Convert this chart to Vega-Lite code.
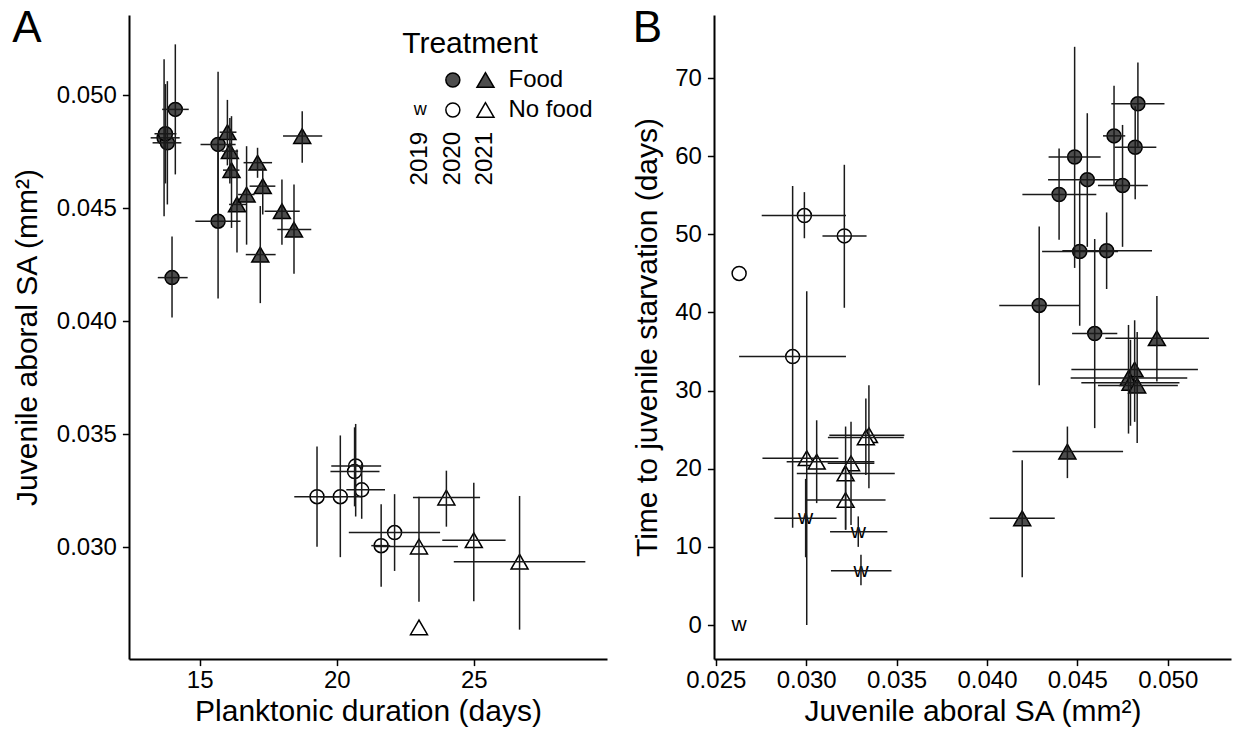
{
  "$schema": "https://vega.github.io/schema/vega-lite/v6.json",
  "padding": {"left": 12, "top": 7, "right": 5, "bottom": 0},
  "config": {
    "font": "Liberation Sans",
    "view": {"stroke": null},
    "axis": {"grid": false, "domainColor": "black", "domainWidth": 2, "tickColor": "black", "tickWidth": 1.5, "tickSize": 6.6, "labelFontSize": 24, "labelColor": "black", "labelFont": "Liberation Sans", "titleFont": "Liberation Sans", "titleFontSize": 30, "titleFontWeight": "normal", "titleColor": "black", "labelPadding": 6},
    "axisX": {"labelPadding": 3},
    "title": {"fontSize": 44, "fontWeight": "normal", "anchor": "start", "frame": "bounds", "offset": -36, "color": "black", "font": "Liberation Sans"},
    "concat": {"spacing": 25}
  },
  "resolve": {"scale": {"x": "independent", "y": "independent"}},
  "datasets": {
    "pa": [
      {"trt": "Food", "yr": "2020", "x": 13.70, "xlo": 13.21, "xhi": 14.27, "y": 0.04812, "ylo": 0.04465, "yhi": 0.0516},
      {"trt": "Food", "yr": "2020", "x": 13.82, "xlo": 13.28, "xhi": 14.33, "y": 0.0479, "ylo": 0.04517, "yhi": 0.05063},
      {"trt": "Food", "yr": "2020", "x": 13.75, "xlo": 13.35, "xhi": 14.15, "y": 0.0483, "ylo": 0.0461, "yhi": 0.0505},
      {"trt": "Food", "yr": "2020", "x": 14.11, "xlo": 13.63, "xhi": 14.6, "y": 0.04938, "ylo": 0.0465, "yhi": 0.05226},
      {"trt": "Food", "yr": "2020", "x": 15.67, "xlo": 15.03, "xhi": 16.31, "y": 0.04783, "ylo": 0.0446, "yhi": 0.05105},
      {"trt": "Food", "yr": "2020", "x": 15.67, "xlo": 14.84, "xhi": 16.49, "y": 0.04443, "ylo": 0.0410, "yhi": 0.0479},
      {"trt": "Food", "yr": "2020", "x": 13.99, "xlo": 13.47, "xhi": 14.56, "y": 0.04193, "ylo": 0.04016, "yhi": 0.04375},
      {"trt": "Food", "yr": "2021", "x": 16.01, "xlo": 15.73, "xhi": 16.34, "y": 0.04837, "ylo": 0.0469, "yhi": 0.0498},
      {"trt": "Food", "yr": "2021", "x": 16.10, "xlo": 15.8, "xhi": 16.4, "y": 0.04753, "ylo": 0.0461, "yhi": 0.0490},
      {"trt": "Food", "yr": "2021", "x": 16.16, "xlo": 15.85, "xhi": 16.45, "y": 0.04669, "ylo": 0.04413, "yhi": 0.04908},
      {"trt": "Food", "yr": "2021", "x": 16.36, "xlo": 16.07, "xhi": 16.7, "y": 0.04517, "ylo": 0.04304, "yhi": 0.0476},
      {"trt": "Food", "yr": "2021", "x": 16.71, "xlo": 16.4, "xhi": 17.0, "y": 0.04561, "ylo": 0.04339, "yhi": 0.04775},
      {"trt": "Food", "yr": "2021", "x": 17.11, "xlo": 16.6, "xhi": 17.64, "y": 0.04702, "ylo": 0.04635, "yhi": 0.04768},
      {"trt": "Food", "yr": "2021", "x": 17.30, "xlo": 16.82, "xhi": 17.76, "y": 0.04598, "ylo": 0.04472, "yhi": 0.0468},
      {"trt": "Food", "yr": "2021", "x": 17.21, "xlo": 16.68, "xhi": 17.77, "y": 0.04295, "ylo": 0.0408, "yhi": 0.0451},
      {"trt": "Food", "yr": "2021", "x": 18.00, "xlo": 17.37, "xhi": 18.65, "y": 0.04487, "ylo": 0.04339, "yhi": 0.04627},
      {"trt": "Food", "yr": "2021", "x": 18.44, "xlo": 17.83, "xhi": 19.07, "y": 0.04406, "ylo": 0.0421, "yhi": 0.04605},
      {"trt": "Food", "yr": "2021", "x": 18.74, "xlo": 18.04, "xhi": 19.47, "y": 0.0482, "ylo": 0.04702, "yhi": 0.0493},
      {"trt": "No food", "yr": "2020", "x": 19.28, "xlo": 18.45, "xhi": 20.1, "y": 0.03223, "ylo": 0.03001, "yhi": 0.03445},
      {"trt": "No food", "yr": "2020", "x": 20.13, "xlo": 19.4, "xhi": 20.9, "y": 0.03223, "ylo": 0.02955, "yhi": 0.03494},
      {"trt": "No food", "yr": "2020", "x": 20.69, "xlo": 19.8, "xhi": 21.62, "y": 0.03359, "ylo": 0.03135, "yhi": 0.03545},
      {"trt": "No food", "yr": "2020", "x": 20.65, "xlo": 19.77, "xhi": 21.56, "y": 0.03334, "ylo": 0.0318, "yhi": 0.0353},
      {"trt": "No food", "yr": "2020", "x": 20.91, "xlo": 20.35, "xhi": 21.76, "y": 0.03253, "ylo": 0.03125, "yhi": 0.0337},
      {"trt": "No food", "yr": "2020", "x": 22.11, "xlo": 20.44, "xhi": 23.77, "y": 0.03064, "ylo": 0.02894, "yhi": 0.03234},
      {"trt": "No food", "yr": "2020", "x": 21.62, "xlo": 21.26, "xhi": 21.95, "y": 0.03006, "ylo": 0.02824, "yhi": 0.03189},
      {"trt": "No food", "yr": "2021", "x": 24.0, "xlo": 22.78, "xhi": 25.23, "y": 0.03219, "ylo": 0.0309, "yhi": 0.03338},
      {"trt": "No food", "yr": "2021", "x": 23.0, "xlo": 21.38, "xhi": 24.42, "y": 0.03002, "ylo": 0.02757, "yhi": 0.03223},
      {"trt": "No food", "yr": "2021", "x": 25.0, "xlo": 23.85, "xhi": 26.16, "y": 0.0303, "ylo": 0.0276, "yhi": 0.03285},
      {"trt": "No food", "yr": "2021", "x": 26.67, "xlo": 24.27, "xhi": 29.07, "y": 0.02935, "ylo": 0.02634, "yhi": 0.03226},
      {"trt": "No food", "yr": "2021", "x": 23.0, "xlo": null, "xhi": null, "y": 0.02644, "ylo": null, "yhi": null}
    ],
    "pb": [
      {"trt": "Food", "yr": "2020", "x": 0.04835, "xlo": 0.04688, "xhi": 0.04982, "y": 66.7, "ylo": 61.2, "yhi": 72.0},
      {"trt": "Food", "yr": "2020", "x": 0.0482, "xlo": 0.04706, "xhi": 0.04937, "y": 61.15, "ylo": 54.5, "yhi": 66.4},
      {"trt": "Food", "yr": "2020", "x": 0.04703, "xlo": 0.04642, "xhi": 0.04765, "y": 62.6, "ylo": 56.3, "yhi": 69.0},
      {"trt": "Food", "yr": "2020", "x": 0.0475, "xlo": 0.04614, "xhi": 0.0489, "y": 56.25, "ylo": 48.4, "yhi": 64.0},
      {"trt": "Food", "yr": "2020", "x": 0.04485, "xlo": 0.04341, "xhi": 0.04629, "y": 59.9, "ylo": 45.7, "yhi": 74.0},
      {"trt": "Food", "yr": "2020", "x": 0.04555, "xlo": 0.04338, "xhi": 0.04725, "y": 57.0, "ylo": 48.4, "yhi": 65.5},
      {"trt": "Food", "yr": "2020", "x": 0.04399, "xlo": 0.04196, "xhi": 0.04605, "y": 55.1, "ylo": 49.3, "yhi": 61.0},
      {"trt": "Food", "yr": "2020", "x": 0.04513, "xlo": 0.04305, "xhi": 0.04725, "y": 47.8, "ylo": 38.3, "yhi": 56.8},
      {"trt": "Food", "yr": "2020", "x": 0.04662, "xlo": 0.04417, "xhi": 0.04913, "y": 47.9, "ylo": 43.0, "yhi": 52.8},
      {"trt": "Food", "yr": "2020", "x": 0.04289, "xlo": 0.04068, "xhi": 0.04513, "y": 40.9, "ylo": 30.7, "yhi": 51.0},
      {"trt": "Food", "yr": "2020", "x": 0.04596, "xlo": 0.04471, "xhi": 0.04721, "y": 37.3, "ylo": 25.2, "yhi": 49.4},
      {"trt": "Food", "yr": "2021", "x": 0.0494, "xlo": 0.04655, "xhi": 0.05228, "y": 36.7, "ylo": 31.15, "yhi": 42.1},
      {"trt": "Food", "yr": "2021", "x": 0.04817, "xlo": 0.04467, "xhi": 0.05167, "y": 32.7, "ylo": 26.0, "yhi": 39.0},
      {"trt": "Food", "yr": "2021", "x": 0.04783, "xlo": 0.04463, "xhi": 0.05108, "y": 31.6, "ylo": 24.5, "yhi": 38.4},
      {"trt": "Food", "yr": "2021", "x": 0.04794, "xlo": 0.04522, "xhi": 0.05065, "y": 31.0, "ylo": 25.5, "yhi": 36.5},
      {"trt": "Food", "yr": "2021", "x": 0.04831, "xlo": 0.04614, "xhi": 0.05056, "y": 30.65, "ylo": 23.3, "yhi": 37.5},
      {"trt": "Food", "yr": "2021", "x": 0.04445, "xlo": 0.04141, "xhi": 0.04753, "y": 22.2, "ylo": 18.8, "yhi": 25.4},
      {"trt": "Food", "yr": "2021", "x": 0.04195, "xlo": 0.04015, "xhi": 0.04375, "y": 13.66, "ylo": 6.1, "yhi": 21.1},
      {"trt": "No food", "yr": "2020", "x": 0.0299, "xlo": 0.02754, "xhi": 0.0322, "y": 52.4, "ylo": 49.5, "yhi": 55.4},
      {"trt": "No food", "yr": "2020", "x": 0.03211, "xlo": 0.0309, "xhi": 0.03334, "y": 49.8, "ylo": 40.6, "yhi": 58.9},
      {"trt": "No food", "yr": "2020", "x": 0.02629, "xlo": null, "xhi": null, "y": 45.0, "ylo": null, "yhi": null},
      {"trt": "No food", "yr": "2020", "x": 0.02925, "xlo": 0.02629, "xhi": 0.0322, "y": 34.35, "ylo": 12.46, "yhi": 56.2},
      {"trt": "No food", "yr": "2021", "x": 0.03003, "xlo": 0.02758, "xhi": 0.03178, "y": 21.35, "ylo": 0.0, "yhi": 42.7},
      {"trt": "No food", "yr": "2021", "x": 0.03058, "xlo": 0.02892, "xhi": 0.03377, "y": 20.9, "ylo": 15.6, "yhi": 26.2},
      {"trt": "No food", "yr": "2021", "x": 0.03248, "xlo": 0.03119, "xhi": 0.03377, "y": 20.7, "ylo": 12.8, "yhi": 26.0},
      {"trt": "No food", "yr": "2021", "x": 0.03218, "xlo": 0.02948, "xhi": 0.0349, "y": 19.4, "ylo": 12.2, "yhi": 25.4},
      {"trt": "No food", "yr": "2021", "x": 0.03218, "xlo": 0.02997, "xhi": 0.03439, "y": 16.0, "ylo": 12.2, "yhi": 19.8},
      {"trt": "No food", "yr": "2021", "x": 0.03347, "xlo": 0.03128, "xhi": 0.03543, "y": 24.3, "ylo": 17.5, "yhi": 30.7},
      {"trt": "No food", "yr": "2021", "x": 0.0333, "xlo": 0.0312, "xhi": 0.0354, "y": 24.0, "ylo": 19.2, "yhi": 29.0},
      {"trt": "No food", "yr": "2019", "x": 0.02997, "xlo": 0.02824, "xhi": 0.03168, "y": 13.66, "ylo": 8.67, "yhi": 18.7},
      {"trt": "No food", "yr": "2019", "x": 0.03288, "xlo": 0.03132, "xhi": 0.03449, "y": 11.95, "ylo": 10.0, "yhi": 13.9},
      {"trt": "No food", "yr": "2019", "x": 0.03303, "xlo": 0.03137, "xhi": 0.03472, "y": 6.95, "ylo": 5.1, "yhi": 9.0},
      {"trt": "No food", "yr": "2019", "x": 0.02629, "xlo": null, "xhi": null, "y": 0.0, "ylo": null, "yhi": null}
    ],
    "lg": [
      {"yr": "2020", "trt": "Food", "row": 1, "col": 2020},
      {"yr": "2021", "trt": "Food", "row": 1, "col": 2021},
      {"yr": "2019", "trt": "No food", "row": 2, "col": 2019},
      {"yr": "2020", "trt": "No food", "row": 2, "col": 2020},
      {"yr": "2021", "trt": "No food", "row": 2, "col": 2021}
    ],
    "lgrow": [
      {"trt": "Food", "row": 1},
      {"trt": "No food", "row": 2}
    ],
    "lgcol": [
      {"yr": "2019", "col": 2019},
      {"yr": "2020", "col": 2020},
      {"yr": "2021", "col": 2021}
    ]
  },
  "hconcat": [
    {
      "title": {"text": "A"},
      "width": 478,
      "height": 644,
      "resolve": {"scale": {"x": "independent", "y": "independent"}},
      "layer": [
        {
          "data": {"name": "pa"},
          "layer": [
            {
              "mark": {"type": "point", "filled": true, "stroke": "black", "strokeWidth": 1.5, "opacity": 1},
              "encoding": {
                "x": {"field": "x", "type": "quantitative", "scale": {"domain": [12.42, 29.86], "nice": false, "zero": false}, "axis": {"title": "Planktonic duration (days)", "values": [15, 20, 25], "titlePadding": 4}},
                "y": {"field": "y", "type": "quantitative", "scale": {"domain": [0.02504, 0.05356], "nice": false, "zero": false}, "axis": {"title": "Juvenile aboral SA (mm²)", "values": [0.03, 0.035, 0.04, 0.045, 0.05], "format": ".3f", "titlePadding": 14}},
                "shape": {"field": "yr", "type": "nominal", "scale": {"domain": ["2020", "2021"], "range": ["circle", "triangle-up"]}, "legend": null},
                "size": {"field": "yr", "type": "nominal", "scale": {"domain": ["2020", "2021"], "range": [196, 289]}, "legend": null},
                "fill": {"field": "trt", "type": "nominal", "scale": {"domain": ["Food", "No food"], "range": ["#4d4d4d", "#ffffff"]}, "legend": null}
              }
            },
            {
              "transform": [{"filter": "datum.xlo != null"}],
              "mark": {"type": "rule", "color": "#1a1a1a", "strokeWidth": 1.5},
              "encoding": {
                "x": {"field": "xlo", "type": "quantitative", "title": "Planktonic duration (days)"},
                "x2": {"field": "xhi"},
                "y": {"field": "y", "type": "quantitative", "title": "Juvenile aboral SA (mm²)"}
              }
            },
            {
              "transform": [{"filter": "datum.ylo != null"}],
              "mark": {"type": "rule", "color": "#1a1a1a", "strokeWidth": 1.5},
              "encoding": {
                "x": {"field": "x", "type": "quantitative", "title": "Planktonic duration (days)"},
                "y": {"field": "ylo", "type": "quantitative", "title": "Juvenile aboral SA (mm²)"},
                "y2": {"field": "yhi"}
              }
            }
          ]
        },
        {
          "layer": [
            {
              "data": {"name": "lg"},
              "transform": [{"filter": "datum.yr != '2019'"}],
              "mark": {"type": "point", "filled": true, "stroke": "black", "strokeWidth": 1.5, "opacity": 1},
              "encoding": {
                "x": {"field": "col", "type": "quantitative", "scale": {"domain": [2010.075, 2024.724], "nice": false, "zero": false}, "axis": null},
                "y": {"field": "row", "type": "quantitative", "scale": {"domain": [-1.1667, 20.3], "reverse": true, "nice": false, "zero": false}, "axis": null},
                "shape": {"field": "yr", "type": "nominal", "legend": null},
                "size": {"field": "yr", "type": "nominal", "legend": null},
                "fill": {"field": "trt", "type": "nominal", "legend": null}
              }
            },
            {
              "data": {"name": "lg"},
              "transform": [{"filter": "datum.yr == '2019'"}],
              "mark": {"type": "text", "text": "w", "fontSize": 18, "baseline": "middle", "align": "center", "color": "black"},
              "encoding": {
                "x": {"field": "col", "type": "quantitative", "axis": null},
                "y": {"field": "row", "type": "quantitative", "axis": null}
              }
            },
            {
              "data": {"name": "lgrow"},
              "mark": {"type": "text", "align": "left", "baseline": "middle", "fontSize": 24, "dx": 23, "color": "black"},
              "encoding": {
                "x": {"datum": 2021, "type": "quantitative", "axis": null},
                "y": {"field": "row", "type": "quantitative", "axis": null},
                "text": {"field": "trt"}
              }
            },
            {
              "data": {"name": "lgcol"},
              "mark": {"type": "text", "angle": 270, "align": "right", "baseline": "middle", "fontSize": 24, "dx": 8, "color": "black"},
              "encoding": {
                "x": {"field": "col", "type": "quantitative", "axis": null},
                "y": {"datum": 3, "type": "quantitative", "axis": null},
                "text": {"field": "yr"}
              }
            },
            {
              "data": {"values": [{"t": "Treatment"}]},
              "mark": {"type": "text", "align": "left", "baseline": "alphabetic", "fontSize": 30, "dx": -18, "dy": 3, "color": "black"},
              "encoding": {
                "x": {"datum": 2019, "type": "quantitative", "axis": null},
                "y": {"datum": 0, "type": "quantitative", "axis": null},
                "text": {"field": "t"}
              }
            }
          ]
        }
      ]
    },
    {
      "title": {"text": "B"},
      "width": 517,
      "height": 644,
      "data": {"name": "pb"},
      "layer": [
        {
          "transform": [{"filter": "datum.yr != '2019'"}],
          "mark": {"type": "point", "filled": true, "stroke": "black", "strokeWidth": 1.5, "opacity": 1},
          "encoding": {
            "x": {"field": "x", "type": "quantitative", "scale": {"domain": [0.0249, 0.0535], "nice": false, "zero": false}, "axis": {"title": "Juvenile aboral SA (mm²)", "values": [0.025, 0.03, 0.035, 0.04, 0.045, 0.05], "format": ".3f", "titlePadding": 4}},
            "y": {"field": "y", "type": "quantitative", "scale": {"domain": [-4.35, 78.07], "nice": false, "zero": false}, "axis": {"title": "Time to juvenile starvation (days)", "values": [0, 10, 20, 30, 40, 50, 60, 70], "titlePadding": 12}},
            "shape": {"field": "yr", "type": "nominal", "scale": {"domain": ["2020", "2021"], "range": ["circle", "triangle-up"]}, "legend": null},
            "size": {"field": "yr", "type": "nominal", "scale": {"domain": ["2020", "2021"], "range": [196, 289]}, "legend": null},
            "fill": {"field": "trt", "type": "nominal", "scale": {"domain": ["Food", "No food"], "range": ["#4d4d4d", "#ffffff"]}, "legend": null}
          }
        },
        {
          "transform": [{"filter": "datum.yr == '2019'"}],
          "mark": {"type": "text", "text": "w", "fontSize": 21, "baseline": "middle", "align": "center", "color": "black"},
          "encoding": {
            "x": {"field": "x", "type": "quantitative", "title": "Juvenile aboral SA (mm²)"},
            "y": {"field": "y", "type": "quantitative", "title": "Time to juvenile starvation (days)"}
          }
        },
        {
          "transform": [{"filter": "datum.xlo != null"}],
          "mark": {"type": "rule", "color": "#1a1a1a", "strokeWidth": 1.5},
          "encoding": {
            "x": {"field": "xlo", "type": "quantitative", "title": "Juvenile aboral SA (mm²)"},
            "x2": {"field": "xhi"},
            "y": {"field": "y", "type": "quantitative", "title": "Time to juvenile starvation (days)"}
          }
        },
        {
          "transform": [{"filter": "datum.ylo != null"}],
          "mark": {"type": "rule", "color": "#1a1a1a", "strokeWidth": 1.5},
          "encoding": {
            "x": {"field": "x", "type": "quantitative", "title": "Juvenile aboral SA (mm²)"},
            "y": {"field": "ylo", "type": "quantitative", "title": "Time to juvenile starvation (days)"},
            "y2": {"field": "yhi"}
          }
        }
      ]
    }
  ]
}
